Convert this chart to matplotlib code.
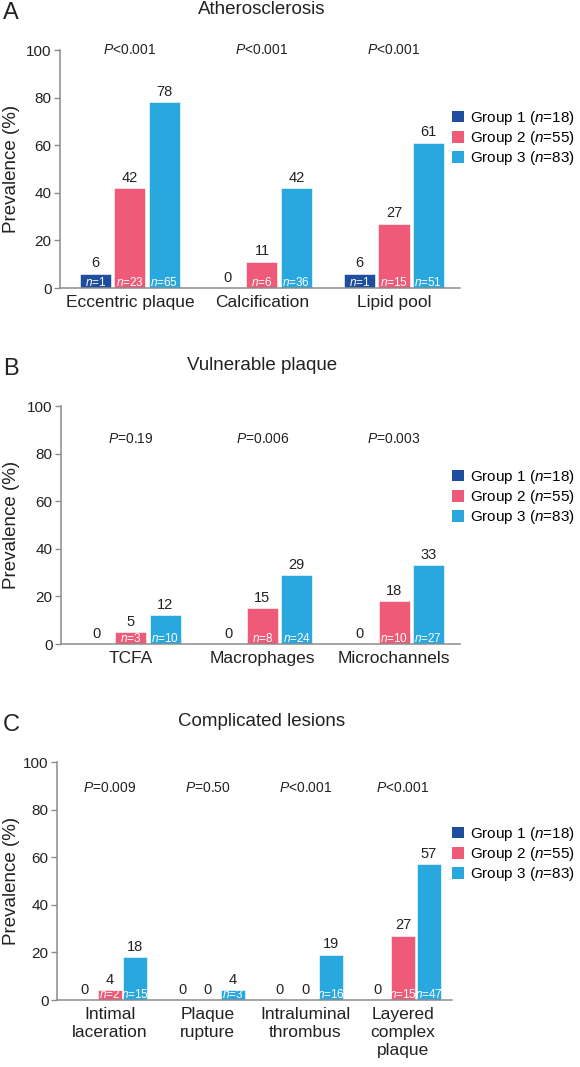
import matplotlib
matplotlib.use("Agg")
import matplotlib.pyplot as plt
from matplotlib.patches import Patch

plt.rcParams['font.family'] = ['Liberation Sans', 'DejaVu Sans']
plt.rcParams['mathtext.fontset'] = 'custom'
plt.rcParams['mathtext.rm'] = 'Liberation Sans'
plt.rcParams['mathtext.it'] = 'Liberation Sans:italic'

# ---------------- data ----------------
group_labels = ['Group 1', 'Group 2', 'Group 3']
group_sizes = [18, 55, 83]
group_colors = ['#1f4e9e', '#ee5a78', '#29a8e0']

cats_A = ['Eccentric plaque', 'Calcification', 'Lipid pool']
A_g1 = [6, 0, 6]
A_g2 = [42, 11, 27]
A_g3 = [78, 42, 61]
A_n1 = [1, None, 1]
A_n2 = [23, 6, 15]
A_n3 = [65, 36, 51]
A_p = ['<0.001', '<0.001', '<0.001']

cats_B = ['TCFA', 'Macrophages', 'Microchannels']
B_g1 = [0, 0, 0]
B_g2 = [5, 15, 18]
B_g3 = [12, 29, 33]
B_n1 = [None, None, None]
B_n2 = [3, 8, 10]
B_n3 = [10, 24, 27]
B_p = ['=0.19', '=0.006', '=0.003']

cats_C = ['Intimal\nlaceration', 'Plaque\nrupture', 'Intraluminal\nthrombus',
          'Layered\ncomplex\nplaque']
C_g1 = [0, 0, 0, 0]
C_g2 = [4, 0, 0, 27]
C_g3 = [18, 4, 19, 57]
C_n1 = [None, None, None, None]
C_n2 = [2, None, None, 15]
C_n3 = [15, 3, 16, 47]
C_p = ['=0.009', '=0.50', '<0.001', '<0.001']

panels = [
    dict(letter='A', title='Atherosclerosis', cats=cats_A,
         vals=[A_g1, A_g2, A_g3], ns=[A_n1, A_n2, A_n3], p=A_p, p_y=100,
         rect=[60, 460, 288], xlim=(-0.53, 2.5), width=0.235, leg_y=138),
    dict(letter='B', title='Vulnerable plaque', cats=cats_B,
         vals=[B_g1, B_g2, B_g3], ns=[B_n1, B_n2, B_n3], p=B_p, p_y=86,
         rect=[61, 460, 644], xlim=(-0.53, 2.5), width=0.235, leg_y=497),
    dict(letter='C', title='Complicated lesions', cats=cats_C,
         vals=[C_g1, C_g2, C_g3], ns=[C_n1, C_n2, C_n3], p=C_p, p_y=89,
         rect=[57, 452, 1000], xlim=(-0.54, 3.5), width=0.245, leg_y=854),
]

W, H = 580, 1067
AX_H = 238
fig = plt.figure(figsize=(W / 100, H / 100), dpi=100)

text_col = '#222222'
spine_col = '#8c8c8c'
offset = 0.26

for pn in panels:
    left, right, bottom = pn['rect']
    ax = fig.add_axes([left / W, 1 - bottom / H, (right - left) / W, AX_H / H])
    ncat = len(pn['cats'])
    xs = list(range(ncat))
    for g in range(3):
        pos = [x + (g - 1) * offset for x in xs]
        bars = ax.bar(pos, pn['vals'][g], width=pn['width'], color=group_colors[g],
                      edgecolor='white', linewidth=0.4, zorder=2)
        for b, v, n in zip(bars, pn['vals'][g], pn['ns'][g]):
            cx = b.get_x() + b.get_width() / 2
            ax.annotate(f'{v}', (cx, v), xytext=(0, 2.5), textcoords='offset points',
                        ha='center', va='bottom', fontsize=10.5, color=text_col)
            if n is not None:
                ax.annotate(r'$\mathit{n}$=' + f'{n}', (cx, 0), xytext=(0, 1.2),
                            textcoords='offset points', ha='center', va='baseline',
                            fontsize=8.5, color='white', zorder=3)
    for x, p in zip(xs, pn['p']):
        ax.text(x, pn['p_y'], r'$\mathit{P}$' + p, ha='center', va='center',
                fontsize=10, color=text_col)

    ax.set_xlim(*pn['xlim'])
    ax.set_ylim(0, 100)
    ax.set_yticks([0, 20, 40, 60, 80, 100])
    ax.set_xticks(xs)
    ax.set_xticklabels(pn['cats'], fontsize=12.5, color=text_col, linespacing=1.25)
    ax.tick_params(axis='x', length=0, pad=5)
    ax.tick_params(axis='y', length=4, width=1, color=spine_col, labelsize=11,
                   labelcolor=text_col, pad=2)
    for s in ['top', 'right']:
        ax.spines[s].set_visible(False)
    for s in ['left', 'bottom']:
        ax.spines[s].set_color(spine_col)
        ax.spines[s].set_linewidth(1.1)
    ax.set_ylabel('Prevalence (%)', fontsize=13.5, color=text_col)
    ax.yaxis.label.set_va('center')
    ax.yaxis.set_label_coords((12 - left) / (right - left), 0.5)

    # title and panel letter
    fig.text(262 / W, 1 - (bottom - AX_H - 40) / H, pn['title'], ha='center',
             va='center', fontsize=13.5, color=text_col)
    fig.text(3 / W, 1 - (bottom - AX_H - 37) / H, pn['letter'], ha='left',
             va='center', fontsize=17, color=text_col)

    handles = [Patch(facecolor=c, edgecolor='none') for c in group_colors]
    labels = [f'{g} (' + r'$\mathit{n}$' + f'={n})' for g, n in zip(group_labels, group_sizes)]
    ax.legend(handles, labels, loc='center left',
              bbox_to_anchor=(452 / W, 1 - pn['leg_y'] / H),
              bbox_transform=fig.transFigure, frameon=False, fontsize=11,
              handlelength=0.8, handleheight=0.8, handletextpad=0.4,
              labelspacing=0.15, borderpad=0, borderaxespad=0)

fig.savefig('out.png', dpi=100)
